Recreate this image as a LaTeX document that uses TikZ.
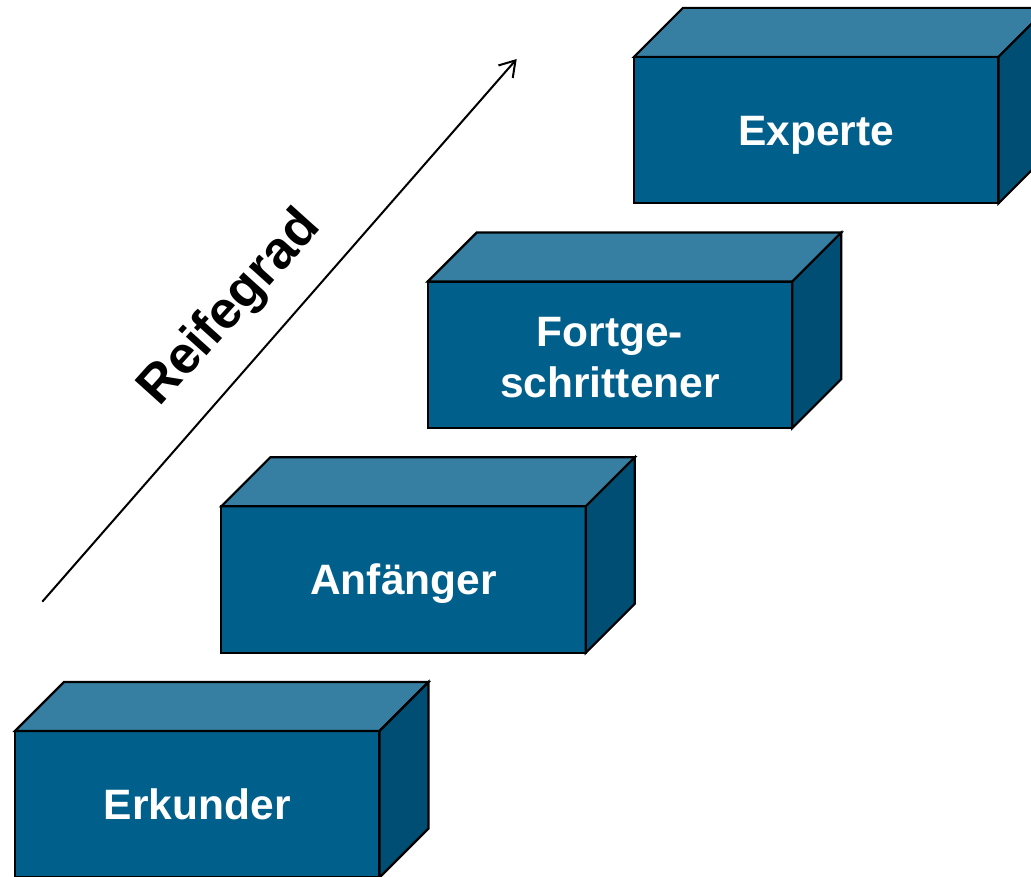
\documentclass[tikz,border=0pt]{standalone}
\usepackage{fontspec}
\setmainfont{Liberation Sans}
\usetikzlibrary{arrows.meta}

\definecolor{cfront}{HTML}{005F8B}
\definecolor{ctop}{HTML}{367FA3}
\definecolor{cside}{HTML}{004E73}

\tikzset{
  front/.style={draw=black, line width=2.2pt, fill=cfront, inner sep=0pt, outer sep=0pt,
    minimum width=364.5pt, minimum height=146.5pt, text=white,
    font=\fontsize{42.5}{51}\selectfont\bfseries, text height=30.4pt, text depth=0pt},
  face/.style={draw=black, line width=2.2pt, line join=miter},
  axisline/.style={draw=black, line width=2pt, -{Straight Barb[length=15pt,width=19pt]}},
  axislabel/.style={font=\fontsize{52.5}{63}\selectfont\bfseries, rotate=48, anchor=base, inner sep=0pt}
}

\begin{document}
\begin{tikzpicture}[x=1pt, y=-1pt]
\useasboundingbox (0,0) rectangle (1031,877);

% front faces of the four steps, with their labels
\node[front, text depth=-5pt] (erk) at (197.25, 804.25) {Erkunder};
\node[front] (anf) at (403.55, 579.55) {Anfänger};
\node[front, text depth=47.6pt] (fort) at (609.95, 354.85)
  {\begin{tabular}[t]{@{}c@{}}Fortge-\\schrittener\end{tabular}};
\node[front] (exp) at (816.25, 130.15) {Experte};

% top and side faces of each block
\foreach \n in {erk, anf, fort, exp} {
  \draw[face, fill=ctop] (\n.north west) -- ++(49,-49)
    -- ([shift={(49,-49)}]\n.north east) -- (\n.north east) -- cycle;
  \draw[face, fill=cside] (\n.north east) -- ++(49,-49)
    -- ([shift={(49,-49)}]\n.south east) -- (\n.south east) -- cycle;
}

% maturity axis
\coordinate (a0) at (42.3, 601.7);
\coordinate (a1) at (516.7, 59);
\draw[axisline] (a0) -- (a1);
\node[axislabel] (reife) at (241, 318) {Reifegrad};
\end{tikzpicture}
\end{document}
